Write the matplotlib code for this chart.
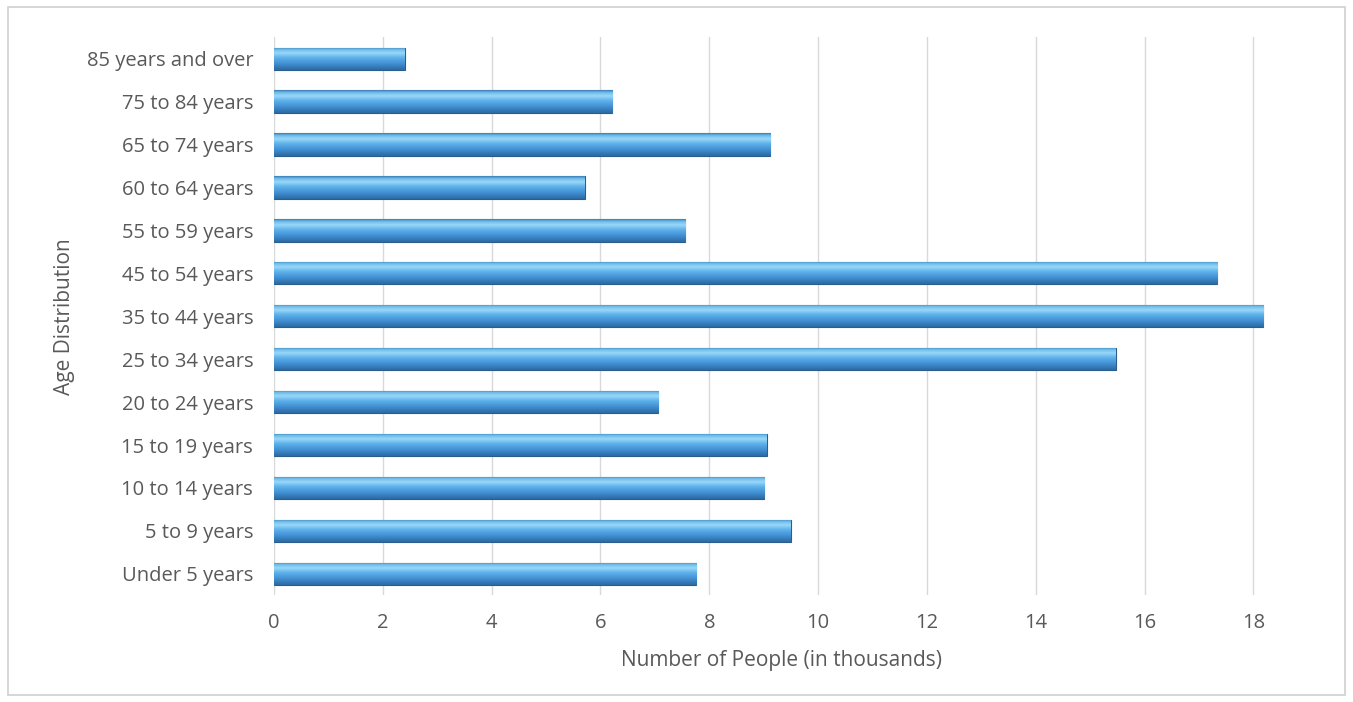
import numpy as np
import matplotlib
matplotlib.use("Agg")
import matplotlib.pyplot as plt
from matplotlib.colors import LinearSegmentedColormap
from matplotlib.patches import Rectangle

categories = ["Under 5 years", "5 to 9 years", "10 to 14 years", "15 to 19 years",
              "20 to 24 years", "25 to 34 years", "35 to 44 years", "45 to 54 years",
              "55 to 59 years", "60 to 64 years", "65 to 74 years", "75 to 84 years",
              "85 years and over"]
values = [7.76, 9.50, 9.01, 9.06, 7.06, 15.47, 18.18, 17.34, 7.56, 5.71, 9.12, 6.22, 2.40]
xticks = [0, 2, 4, 6, 8, 10, 12, 14, 16, 18]

plt.rcParams['font.family'] = ['Open Sans', 'DejaVu Sans']

fig = plt.figure(figsize=(13.53, 7.02), dpi=100)
fig.patches.append(Rectangle((0.006, 0.01), 0.988, 0.98, transform=fig.transFigure,
                             fill=False, edgecolor='#d0d0d0', linewidth=1.2))
ax = fig.add_axes([0.2025, 0.152, 0.75, 0.795])

cmap = LinearSegmentedColormap.from_list("bar", [
    (0.0, "#2c6aa3"), (0.25, "#3f8cd0"), (0.55, "#5fb3ec"), (0.75, "#9ad8f8"),
    (0.9, "#6fbcea"), (1.0, "#3d7fb8")])
grad = np.linspace(0, 1, 64).reshape(-1, 1)

h = 0.52
y = np.arange(len(categories))
bars = ax.barh(y, values, height=h, color='#5aaee6', edgecolor='#2a5d8c', linewidth=0.8, zorder=3)
for b in bars:
    x0, y0 = b.get_x(), b.get_y()
    w, hh = b.get_width(), b.get_height()
    im = ax.imshow(grad, cmap=cmap, aspect='auto', origin='lower',
                   extent=[x0, x0 + w, y0, y0 + hh], zorder=4, interpolation='bilinear')
    im.set_clip_path(b)

ax.set_xlim(0, 18.65)
ax.set_ylim(-0.5, len(categories) - 0.5)
ax.set_yticks(y)
ax.set_yticklabels(categories)
ax.set_xticks(xticks)
ax.grid(axis='x', color='#d9d9d9', linewidth=1, zorder=0)
for s in ax.spines.values():
    s.set_visible(False)
ax.tick_params(axis='both', length=0, labelsize=14.5, colors='#595959')
ax.tick_params(axis='y', pad=15)
ax.tick_params(axis='x', pad=13)
ax.set_xlabel("Number of People (in thousands)", fontsize=15, color='#595959', labelpad=12)
ax.set_ylabel("Age Distribution", fontsize=15, color='#595959', labelpad=8)

fig.savefig("out.png", dpi=100)
